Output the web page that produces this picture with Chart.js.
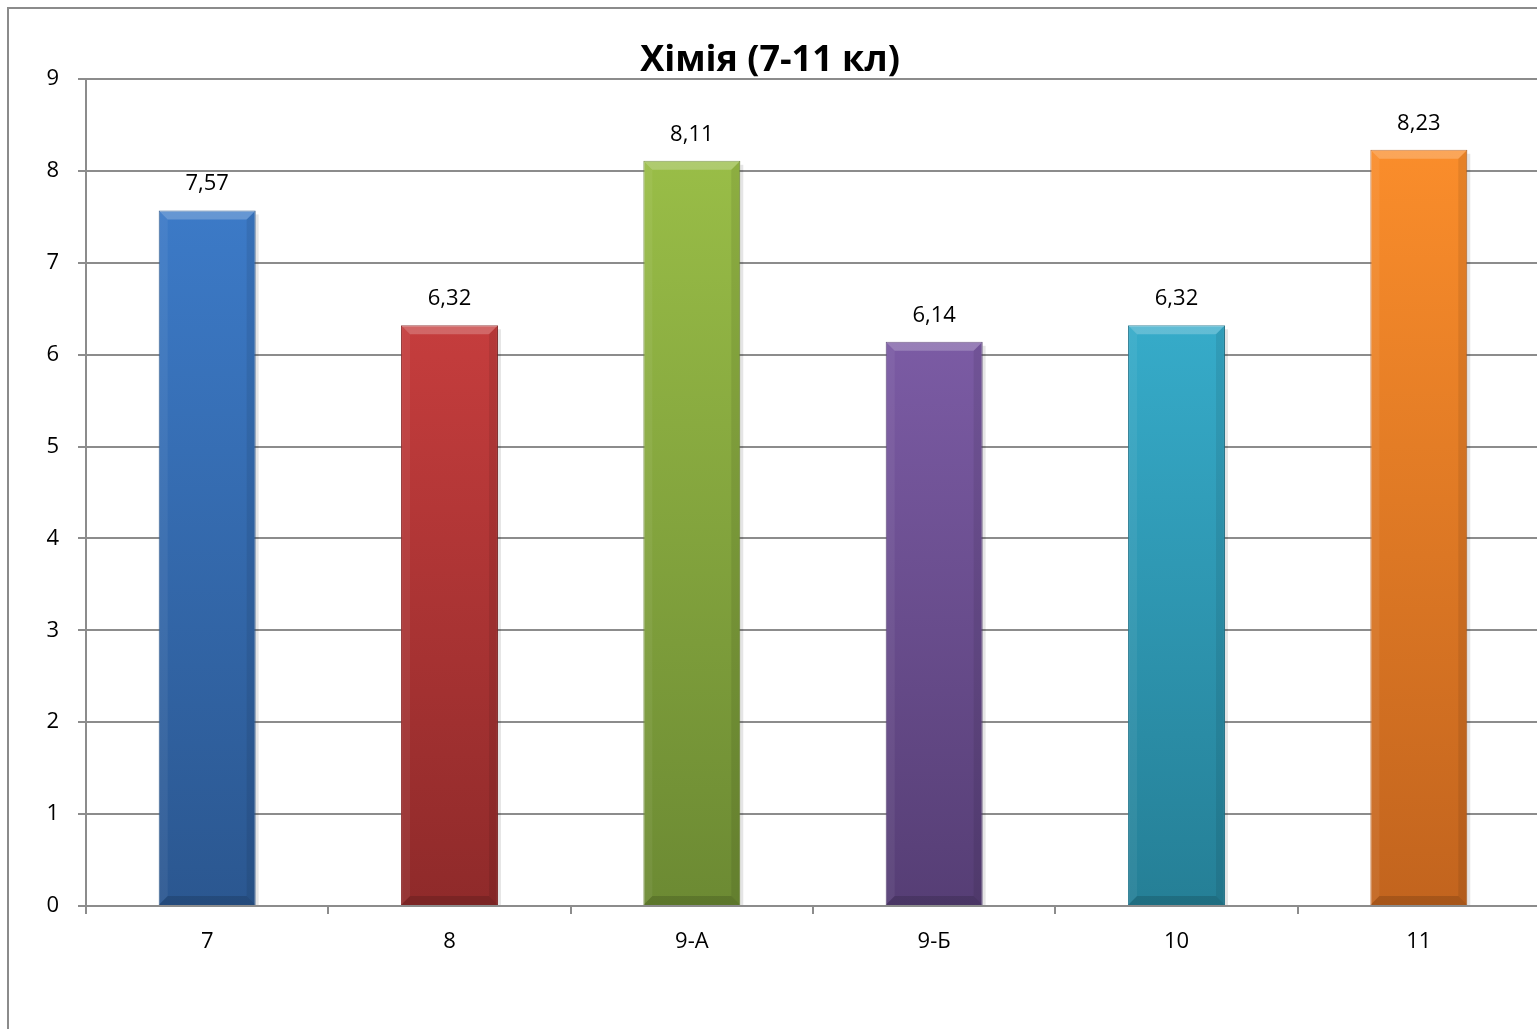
<!DOCTYPE html>
<html>
<head>
<meta charset="utf-8">
<script src="https://cdn.jsdelivr.net/npm/chart.js@4"></script>
<style>
  html, body { margin: 0; padding: 0; background: #fff; overflow: hidden; }
  #frame { position: absolute; left: 7px; top: 7px; width: 1600px; height: 1100px; border: 2px solid #8b8b8b; }
  #chart { position: absolute; left: 0; top: 0; }
</style>
</head>
<body>
<div id="frame"></div>
<canvas id="chart" width="1560" height="1060"></canvas>
<script>
// Data
const titleText = 'Хімія (7-11 кл)';
const classes = ['7', '8', '9-А', '9-Б', '10', '11'];
const averages = [7.57, 6.32, 8.11, 6.14, 6.32, 8.23];
const yTicks = [0, 1, 2, 3, 4, 5, 6, 7, 8, 9];

// bar colours, light at the top, darker at the base
const topColors = ['#3c7ac7', '#c53d3d', '#99bd47', '#7b5ba4', '#36abc9', '#fa8d2b'];
const bottomColors = ['#2b5790', '#8f2a2a', '#6c8a33', '#563e75', '#257f96', '#c2641e'];
const edgeColors = ['#2a5385', '#872828', '#66822f', '#513a6e', '#22768c', '#b45d1c'];

const FONT = "'Open Sans', 'Noto Sans', 'DejaVu Sans', sans-serif";
const gridColor = '#8c8c8c';

// value labels above the bars, decimal comma
const valueLabels = {
  id: 'valueLabels',
  afterDatasetsDraw(chart) {
    const ctx = chart.ctx;
    const meta = chart.getDatasetMeta(0);
    ctx.save();
    ctx.font = '22px ' + FONT;
    ctx.fillStyle = '#000';
    ctx.textAlign = 'center';
    ctx.textBaseline = 'alphabetic';
    meta.data.forEach((bar, i) => {
      const txt = averages[i].toFixed(2).replace('.', ',');
      ctx.fillText(txt, bar.x, bar.y - 20);
    });
    ctx.restore();
  }
};

// rough bevel look on each bar
const bevel = {
  id: 'bevel',
  afterDatasetsDraw(chart) {
    const ctx = chart.ctx;
    const meta = chart.getDatasetMeta(0);
    const b = 9;
    ctx.save();
    meta.data.forEach(bar => {
      const l = bar.x - bar.width / 2, r = bar.x + bar.width / 2;
      const t = bar.y, btm = bar.base;
      // top face
      ctx.fillStyle = 'rgba(255,255,255,0.22)';
      ctx.beginPath();
      ctx.moveTo(l, t); ctx.lineTo(r, t); ctx.lineTo(r - b, t + b); ctx.lineTo(l + b, t + b);
      ctx.closePath(); ctx.fill();
      // left face
      ctx.fillStyle = 'rgba(255,255,255,0.06)';
      ctx.beginPath();
      ctx.moveTo(l, t); ctx.lineTo(l + b, t + b); ctx.lineTo(l + b, btm - b); ctx.lineTo(l, btm);
      ctx.closePath(); ctx.fill();
      // right face
      ctx.fillStyle = 'rgba(0,0,0,0.08)';
      ctx.beginPath();
      ctx.moveTo(r, t); ctx.lineTo(r - b, t + b); ctx.lineTo(r - b, btm - b); ctx.lineTo(r, btm);
      ctx.closePath(); ctx.fill();
      // bottom face
      ctx.fillStyle = 'rgba(0,0,0,0.14)';
      ctx.beginPath();
      ctx.moveTo(l, btm); ctx.lineTo(r, btm); ctx.lineTo(r - b, btm - b); ctx.lineTo(l + b, btm - b);
      ctx.closePath(); ctx.fill();
      // soft shadow on the right
      ctx.fillStyle = 'rgba(0,0,0,0.10)';
      ctx.fillRect(r, t + 4, 3, btm - t - 4);
    });
    ctx.restore();
  }
};

const ctxChem = document.getElementById('chart').getContext('2d');
const chemChart = new Chart(ctxChem, {
  type: 'bar',
  data: {
    labels: classes,
    datasets: [{
      label: titleText,
      data: averages,
      backgroundColor: (c) => {
        const chart = c.chart;
        const i = c.dataIndex;
        if (!chart.chartArea || i === undefined) return topColors[i] || topColors[0];
        const y = chart.scales.y;
        const g = chart.ctx.createLinearGradient(0, y.getPixelForValue(averages[i]), 0, y.getPixelForValue(0));
        g.addColorStop(0, topColors[i]);
        g.addColorStop(1, bottomColors[i]);
        return g;
      },
      borderColor: edgeColors,
      borderWidth: 1,
      barPercentage: 0.4,
      categoryPercentage: 1.0
    }]
  },
  options: {
    responsive: false,
    animation: false,
    layout: { padding: { top: 0, right: 20, bottom: 0, left: 0 } },
    plugins: {
      legend: { display: false },
      tooltip: { enabled: false },
      title: {
        display: true,
        text: titleText,
        color: '#000',
        font: { family: FONT, size: 36, weight: 'bold' },
        padding: { top: 39, bottom: -3.2 }
      }
    },
    scales: {
      x: {
        grid: {
          display: true,
          drawOnChartArea: false,
          drawTicks: true,
          tickLength: 8,
          offset: true,
          color: gridColor,
          lineWidth: 2
        },
        border: { display: true, color: gridColor, width: 2 },
        ticks: { color: '#000', font: { family: FONT, size: 22 }, padding: 15 },
        afterFit: (scale) => { scale.height = 154; }
      },
      y: {
        min: 0,
        max: 9,
        afterBuildTicks: (scale) => { scale.ticks = yTicks.map(v => ({ value: v })); },
        grid: { color: gridColor, lineWidth: 2, tickLength: 8, drawTicks: true },
        border: { display: true, color: gridColor, width: 2 },
        ticks: { color: '#000', font: { family: FONT, size: 22 }, padding: 19 },
        afterFit: (scale) => { scale.width = 86; }
      }
    }
  },
  plugins: [bevel, valueLabels]
});
</script>
</body>
</html>
